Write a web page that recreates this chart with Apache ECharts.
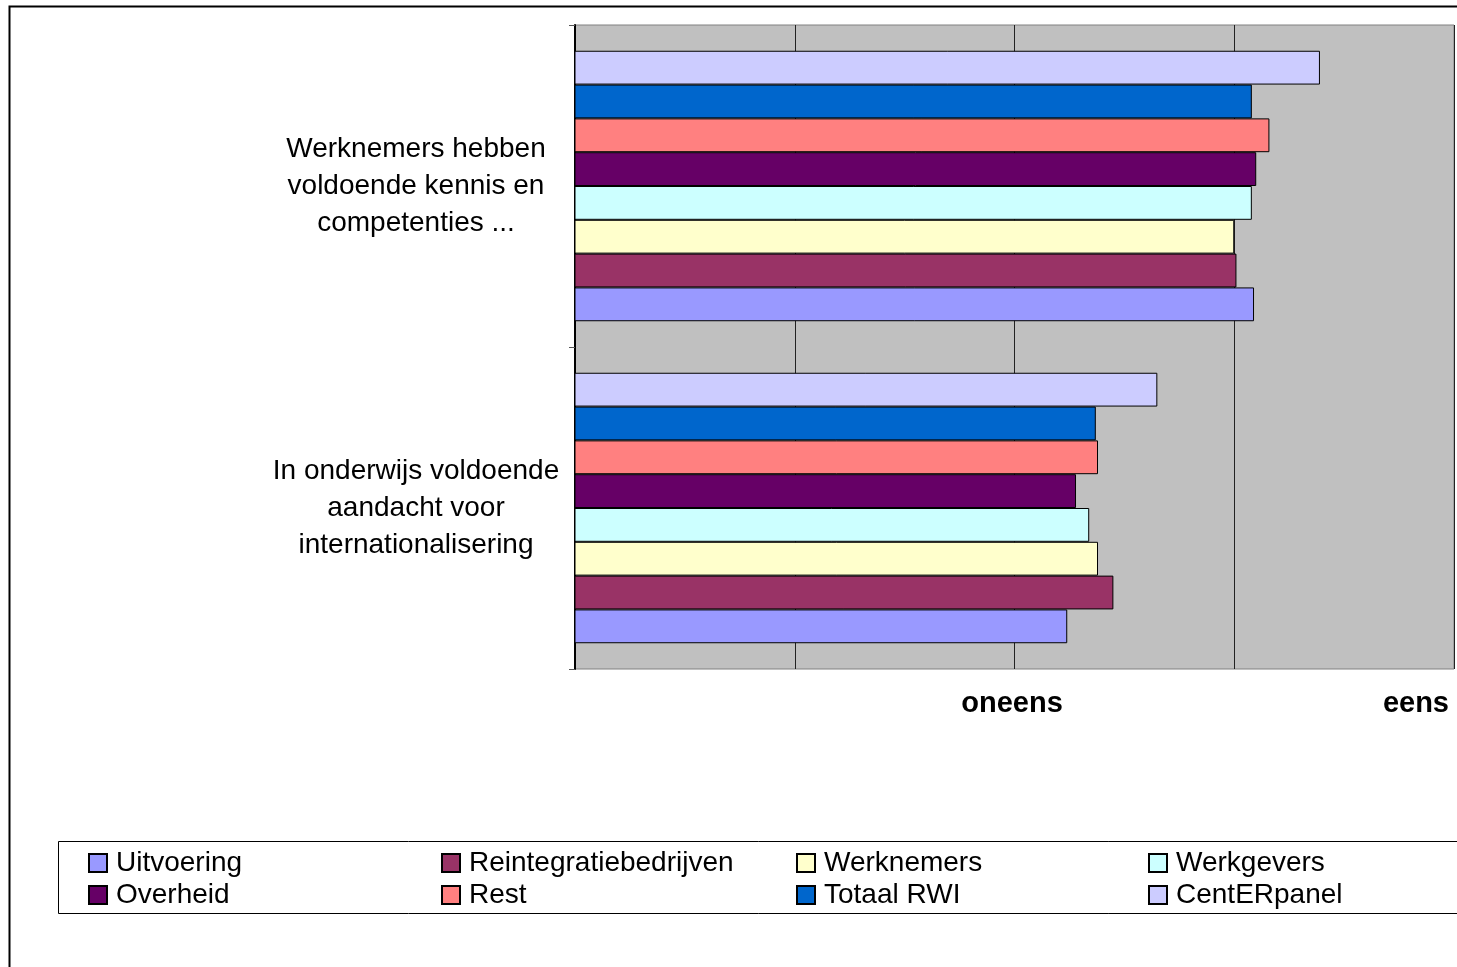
<!DOCTYPE html>
<html>
<head>
<meta charset="utf-8">
<script src="https://cdn.jsdelivr.net/npm/echarts@6/dist/echarts.min.js"></script>
<style>html,body{margin:0;padding:0;background:#fff;}#chart{width:1457px;height:967px;}</style>
</head>
<body>
<div id="chart"></div>
<script>
// Categories (bottom to top, as ECharts lays out a category y-axis)
const categories = [
  'In onderwijs voldoende\naandacht voor\ninternationalisering',
  'Werknemers hebben\nvoldoende kennis en\ncompetenties ...'
];
const seriesNames = ['Uitvoering', 'Reintegratiebedrijven', 'Werknemers', 'Werkgevers', 'Overheid', 'Rest', 'Totaal RWI', 'CentERpanel'];
const uitvoering = [3.24, 4.09];
const reintegratiebedrijven = [3.45, 4.01];
const werknemers = [3.38, 4.00];
const werkgevers = [3.34, 4.08];
const overheid = [3.28, 4.10];
const rest = [3.38, 4.16];
const totaalRWI = [3.37, 4.08];
const centERpanel = [3.65, 4.39];
const xTickLabels = ['', '', 'oneens', '', 'eens'];
const xMin = 1, xMax = 5;

const colors = ['#9999FF', '#993366', '#FFFFCC', '#CCFFFF', '#660066', '#FF8080', '#0066CC', '#CCCCFF'];
const seriesData = [uitvoering, reintegratiebedrijven, werknemers, werkgevers, overheid, rest, totaalRWI, centERpanel];

// legend columns (two rows each)
const legendColumns = [
  ['Uitvoering', 'Overheid'],
  ['Reintegratiebedrijven', 'Rest'],
  ['Werknemers', 'Totaal RWI'],
  ['Werkgevers', 'CentERpanel']
];
const legendLefts = [88, 441, 796, 1148];

const FONT = '"Liberation Sans", Arial, Helvetica, sans-serif';
const chart = echarts.init(document.getElementById('chart'), null, {renderer: 'canvas'});

// draw series in reverse so the first series sits at the bottom of each group
const order = seriesNames.map((_, i) => i).reverse();

chart.setOption({
  animation: false,
  backgroundColor: '#fff',
  textStyle: {fontFamily: FONT},
  graphic: [{
    type: 'rect', left: 7, top: 4, silent: true,
    shape: {width: 1500, height: 1000},
    style: {fill: 'none', stroke: '#000', lineWidth: 2}
  }, {
    type: 'rect', left: 58, top: 841, silent: true, z: -1,
    shape: {width: 1450, height: 72},
    style: {fill: '#fff', stroke: '#000', lineWidth: 1}
  }],
  grid: {
    left: 575, top: 25, right: 3, bottom: 298,
    show: true, backgroundColor: '#C0C0C0', borderColor: '#808080', borderWidth: 1
  },
  legend: legendColumns.map((col, c) => ({
    data: col,
    orient: 'vertical',
    left: legendLefts[c], top: 849,
    padding: 0,
    itemWidth: 18, itemHeight: 18, itemGap: 4,
    icon: 'rect',
    textStyle: {fontFamily: FONT, fontSize: 28, color: '#000', padding: [0, 0, 0, 4]}
  })),
  xAxis: {
    type: 'value', min: xMin, max: xMax, interval: 1,
    axisLine: {show: false},
    axisTick: {show: false},
    splitLine: {show: true, lineStyle: {color: '#222', width: 1}},
    axisLabel: {
      fontFamily: FONT, fontSize: 29, fontWeight: 'bold', color: '#000', margin: 20,
      padding: [0, 5, 0, 0],
      alignMaxLabel: 'right', showMinLabel: true, showMaxLabel: true,
      formatter: v => xTickLabels[Math.round(v - xMin)] || ''
    }
  },
  yAxis: {
    type: 'category', data: categories,
    axisLine: {show: true, lineStyle: {color: '#000', width: 2}},
    axisTick: {show: true, length: 6, lineStyle: {color: '#555'}},
    axisLabel: {fontFamily: FONT, fontSize: 28, lineHeight: 37, color: '#000', align: 'center', margin: 159}
  },
  series: order.map(i => ({
    name: seriesNames[i], type: 'bar', data: seriesData[i],
    barGap: '0%', barCategoryGap: '16%',
    itemStyle: {color: colors[i], borderColor: '#000', borderWidth: 1}
  }))
});
</script>
</body>
</html>
